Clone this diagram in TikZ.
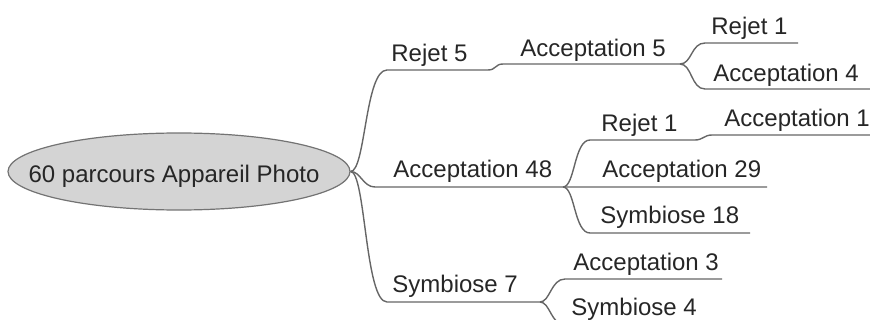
\documentclass[tikz,border=0pt]{standalone}
\usepackage{fontspec}
\setmainfont{Liberation Sans}
\usetikzlibrary{shapes.geometric}
\tikzset{
	root/.style={draw=black!55,fill=black!17,ellipse,line width=.6pt,minimum width=171pt,minimum height=38.5pt,inner sep=0pt},
	topic/.style={anchor=base west,inner sep=0pt,font=\fontsize{12}{14}\selectfont,text=black!85},
	branch/.style={draw=black!60,line width=.7pt}
}

\begin{document}
\begin{tikzpicture}[x=0.5pt,y=-0.5pt]
	\clip (0,0) rectangle (870,320);
	\node[root] (root) at (179,171.5) {};
	\node[topic,anchor=base] (rootlabel) at (174,183) {60 parcours Appareil Photo};
	% line ends
	\coordinate (rej5a) at (387,70);  \coordinate (rej5b) at (488,70);
	\coordinate (acc5a) at (503,64);  \coordinate (acc5b) at (680,64);
	\coordinate (rejt1a) at (705,43); \coordinate (rejt1b) at (798,43);
	\coordinate (acc4a) at (705,89);  \coordinate (acc4b) at (870,89);
	\coordinate (acc48a) at (375,187); \coordinate (acc48b) at (563,187);
	\coordinate (rejm1a) at (590,140); \coordinate (rejm1b) at (695,140);
	\coordinate (acc1a) at (712,135); \coordinate (acc1b) at (870,135);
	\coordinate (acc29b) at (767,187);
	\coordinate (sym18a) at (590,233); \coordinate (sym18b) at (750,233);
	\coordinate (sym7a) at (387,302); \coordinate (sym7b) at (540,302);
	\coordinate (acc3a) at (565,279); \coordinate (acc3b) at (722,279);
	\coordinate (sym4a) at (565,325); \coordinate (sym4b) at (715,325);
	% labels
	\node[topic] (rej5) at (391,62) {Rejet 5};
	\node[topic] (acc5) at (520,57) {Acceptation 5};
	\node[topic] (rejt1) at (711,35) {Rejet 1};
	\node[topic] (acc4) at (713,82) {Acceptation 4};
	\node[topic] (acc48) at (393,177) {Acceptation 48};
	\node[topic] (rejm1) at (601,132) {Rejet 1};
	\node[topic] (acc1) at (724,127) {Acceptation 1};
	\node[topic] (acc29) at (602,177) {Acceptation 29};
	\node[topic] (sym18) at (600,223) {Symbiose 18};
	\node[topic] (sym7) at (392,292) {Symbiose 7};
	\node[topic] (acc3) at (573,270) {Acceptation 3};
	\node[topic] (sym4) at (571,315) {Symbiose 4};
	% branches
	\draw[branch] (root.east) .. controls +(15,0) and +(-22,0) .. (rej5a) -- (rej5b)
		.. controls +(8,0) and +(-8,0) .. (acc5a) -- (acc5b);
	\draw[branch] (acc5b) .. controls +(12,0) and +(-14,0) .. (rejt1a) -- (rejt1b);
	\draw[branch] (acc5b) .. controls +(12,0) and +(-14,0) .. (acc4a) -- (acc4b);
	\draw[branch] (root.east) .. controls +(10,0) and +(-12,0) .. (acc48a) -- (acc48b) -- (acc29b);
	\draw[branch] (acc48b) .. controls +(12,0) and +(-16,0) .. (rejm1a) -- (rejm1b)
		.. controls +(8,0) and +(-8,0) .. (acc1a) -- (acc1b);
	\draw[branch] (acc48b) .. controls +(12,0) and +(-16,0) .. (sym18a) -- (sym18b);
	\draw[branch] (root.east) .. controls +(15,0) and +(-22,0) .. (sym7a) -- (sym7b);
	\draw[branch] (sym7b) .. controls +(10,0) and +(-14,0) .. (acc3a) -- (acc3b);
	\draw[branch] (sym7b) .. controls +(10,0) and +(-14,0) .. (sym4a) -- (sym4b);
\end{tikzpicture}
\end{document}
